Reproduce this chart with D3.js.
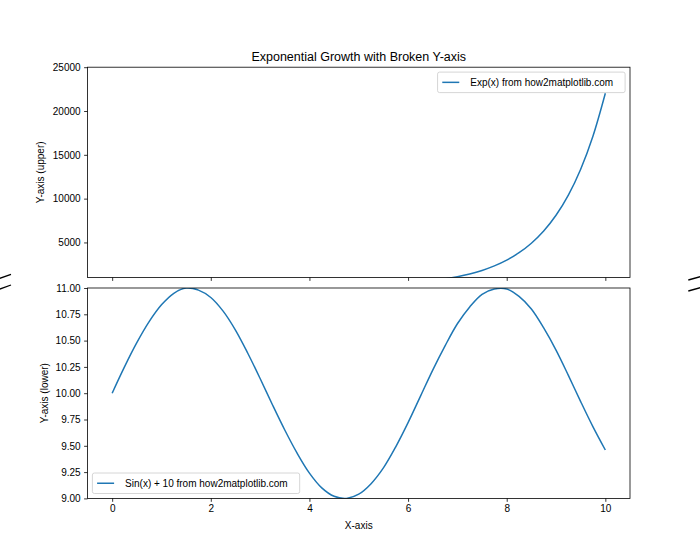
<!DOCTYPE html>
<html>
<head>
<meta charset="utf-8">
<script src="https://cdn.jsdelivr.net/npm/d3@7"></script>
<style>
  html, body { margin: 0; padding: 0; background: #fff; }
  svg { display: block; }
  text { font-family: "Liberation Sans", Arial, sans-serif; fill: #000; }
</style>
</head>
<body>
<div id="chart"></div>
<script>
// ---------------- data ----------------
const xValues = [0, 0.25, 0.5, 0.75, 1, 1.25, 1.5, 1.75, 2, 2.25, 2.5, 2.75, 3, 3.25, 3.5, 3.75, 4, 4.25, 4.5, 4.75,
  5, 5.25, 5.5, 5.75, 6, 6.25, 6.5, 6.75, 7, 7.25, 7.5, 7.75, 8, 8.25, 8.5, 8.75, 9, 9.25, 9.5, 9.75, 10];
const expValues = [1, 1.28, 1.65, 2.12, 2.72, 3.49, 4.48, 5.75, 7.39, 9.49, 12.2, 15.6, 20.1, 25.8, 33.1, 42.5,
  54.6, 70.1, 90.0, 116, 148, 191, 245, 314, 403, 518, 665, 854, 1097, 1408, 1808, 2322, 2981, 3828, 4915,
  6311, 8103, 10405, 13360, 17154, 22026];
const sinValues = [10.00, 10.25, 10.48, 10.68, 10.84, 10.95, 11.00, 10.98, 10.91, 10.78, 10.60, 10.38, 10.14,
  9.89, 9.65, 9.43, 9.24, 9.10, 9.02, 9.00, 9.04, 9.14, 9.29, 9.49, 9.72, 9.97, 10.22, 10.45, 10.66, 10.82,
  10.94, 10.99, 10.99, 10.92, 10.80, 10.62, 10.41, 10.17, 9.92, 9.68, 9.46];
const xTicks = [0, 2, 4, 6, 8, 10];
const upperTicks = [5000, 10000, 15000, 20000, 25000];
const lowerTicks = [9.00, 9.25, 9.50, 9.75, 10.00, 10.25, 10.50, 10.75, 11.00];
const xDomain = [-0.5, 10.5];
const upperDomain = [1000, 25000];
const lowerDomain = [9, 11];
const titleText = "Exponential Growth with Broken Y-axis";
const upperLabel = "Y-axis (upper)";
const lowerLabel = "Y-axis (lower)";
const xLabel = "X-axis";
const upperLegend = "Exp(x) from how2matplotlib.com";
const lowerLegend = "Sin(x) + 10 from how2matplotlib.com";

// ---------------- layout ----------------
const W = 700, H = 560;
const L = 87.5, R = 630;
const upTop = 67.2, upBot = 277.5, loTop = 288.0, loBot = 498.4;
const blue = "#1f77b4";
const tickFont = 10, titleFont = 12.5;
const tickLen = 3.4;

const svg = d3.select("#chart").append("svg").attr("width", W).attr("height", H);

const x = d3.scaleLinear().domain(xDomain).range([L, R]);
const yU = d3.scaleLinear().domain(upperDomain).range([upBot, upTop]);
const yL = d3.scaleLinear().domain(lowerDomain).range([loBot, loTop]);

const defs = svg.append("defs");
defs.append("clipPath").attr("id", "clipU").append("rect")
  .attr("x", L).attr("y", upTop).attr("width", R - L).attr("height", upBot - upTop);
defs.append("clipPath").attr("id", "clipL").append("rect")
  .attr("x", L).attr("y", loTop).attr("width", R - L).attr("height", loBot - loTop);

const ptsExp = xValues.map((v, i) => [v, expValues[i]]);
const ptsSin = xValues.map((v, i) => [v, sinValues[i]]);

const lineU = d3.line().x(d => x(d[0])).y(d => yU(d[1])).curve(d3.curveCatmullRom.alpha(0.5));
const lineL = d3.line().x(d => x(d[0])).y(d => yL(d[1])).curve(d3.curveCatmullRom.alpha(0.5));

svg.append("path").attr("clip-path", "url(#clipU)").attr("d", lineU(ptsExp))
  .attr("fill", "none").attr("stroke", blue).attr("stroke-width", 1.5).attr("stroke-linejoin", "round");
svg.append("path").attr("clip-path", "url(#clipL)").attr("d", lineL(ptsSin))
  .attr("fill", "none").attr("stroke", blue).attr("stroke-width", 1.5).attr("stroke-linejoin", "round");

// axes
function styleAxis(g) {
  g.select(".domain").remove();
  g.selectAll(".tick line").attr("stroke", "#000").attr("stroke-width", 0.8);
  g.selectAll(".tick text").attr("font-size", tickFont)
    .style("font-family", '"Liberation Sans", Arial, sans-serif').attr("fill", "#000");
}
svg.append("g").attr("transform", `translate(0,${upBot})`)
  .call(d3.axisBottom(x).tickValues(xTicks).tickSize(tickLen).tickFormat(""))
  .call(styleAxis);
svg.append("g").attr("transform", `translate(0,${loBot})`)
  .call(d3.axisBottom(x).tickValues(xTicks).tickSize(tickLen).tickPadding(3.5).tickFormat(d3.format("d")))
  .call(styleAxis);
svg.append("g").attr("transform", `translate(${L},0)`)
  .call(d3.axisLeft(yU).tickValues(upperTicks).tickSize(tickLen).tickPadding(3.5).tickFormat(d3.format("d")))
  .call(styleAxis);
svg.append("g").attr("transform", `translate(${L},0)`)
  .call(d3.axisLeft(yL).tickValues(lowerTicks).tickSize(tickLen).tickPadding(3.5).tickFormat(d3.format(".2f")))
  .call(styleAxis);

// frames
[[upTop, upBot], [loTop, loBot]].forEach(([t, b]) => {
  svg.append("rect").attr("x", L).attr("y", t).attr("width", R - L).attr("height", b - t)
    .attr("fill", "none").attr("stroke", "#000").attr("stroke-width", 0.8);
});

// title and labels
svg.append("text").attr("x", (L + R) / 2).attr("y", 61.2).attr("text-anchor", "middle")
  .attr("font-size", titleFont).text(titleText);
svg.append("text").attr("x", (L + R) / 2).attr("y", 529).attr("text-anchor", "middle")
  .attr("font-size", tickFont).text(xLabel);
svg.append("text").attr("transform", `translate(43.5,${(upTop + upBot) / 2}) rotate(-90)`)
  .attr("text-anchor", "middle").attr("font-size", tickFont).text(upperLabel);
svg.append("text").attr("transform", `translate(47.5,${(loTop + loBot) / 2}) rotate(-90)`)
  .attr("text-anchor", "middle").attr("font-size", tickFont).text(lowerLabel);

// legends
function legend(label, anchor) {
  const fs = tickFont;
  const padL = 4.7, hl = 17, htp = 11, padR = 12, axpad = 4.9, bh = 20.5;
  const g = svg.append("g");
  const t = g.append("text").attr("font-size", fs).text(label);
  const tw = t.node().getComputedTextLength();
  const bw = padL + hl + htp + tw + padR;
  let bx, by;
  if (anchor === "upper right") { bx = R - axpad - bw; by = upTop + axpad; }
  else { bx = L + axpad; by = loBot - axpad - bh; }
  g.insert("rect", "text").attr("x", bx).attr("y", by).attr("width", bw).attr("height", bh)
    .attr("rx", 2).attr("ry", 2).attr("fill", "#fff").attr("fill-opacity", 0.8)
    .attr("stroke", "#cccccc").attr("stroke-width", 0.8);
  const cy = by + bh / 2;
  g.append("line").attr("x1", bx + padL).attr("x2", bx + padL + hl).attr("y1", cy).attr("y2", cy)
    .attr("stroke", blue).attr("stroke-width", 1.5);
  t.attr("x", bx + padL + hl + htp).attr("y", cy).attr("dy", "0.35em");
}
legend(upperLegend, "upper right");
legend(lowerLegend, "lower left");

// break marks
const breakMarks = [
  [[-2, 279.0], [11, 274.3]], [[-2, 289.7], [11, 285.0]],
  [[688.3, 280.0], [702, 276.2]], [[688.3, 291.0], [702, 287.2]]
];
breakMarks.forEach(([a, b]) => {
  svg.append("line").attr("x1", a[0]).attr("y1", a[1]).attr("x2", b[0]).attr("y2", b[1])
    .attr("stroke", "#000").attr("stroke-width", 1.3);
});
</script>
</body>
</html>
